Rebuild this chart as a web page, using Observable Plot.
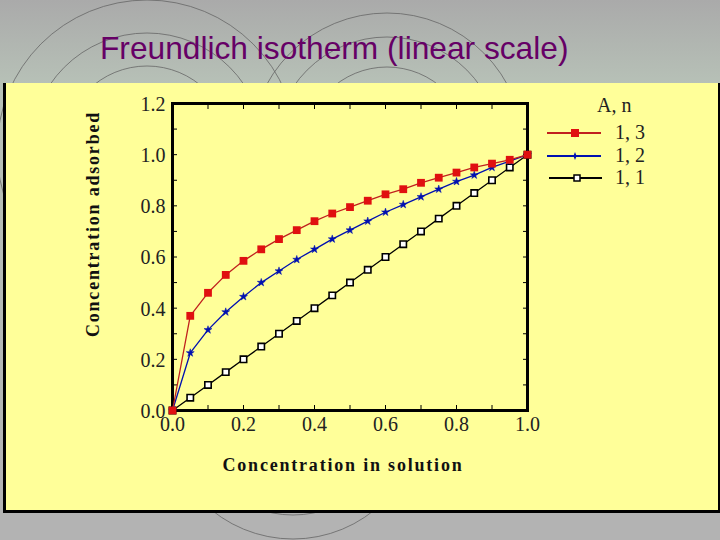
<!DOCTYPE html>
<html>
<head>
<meta charset="utf-8">
<script src="https://cdn.jsdelivr.net/npm/d3@7"></script>
<script src="https://cdn.jsdelivr.net/npm/@observablehq/plot@0.6"></script>
<style>
  html, body { margin: 0; padding: 0; }
  body { width: 720px; height: 540px; position: relative; overflow: hidden;
         background: linear-gradient(to bottom, #aaaaaa 0px, #b7c1b7 85px, #b3b3b3 520px); }
  #deco { position: absolute; left: 0; top: 0; }
  #title { position: absolute; left: 100px; top: 30px; font-family: "Liberation Sans", Arial, sans-serif;
           font-size: 31.7px; color: #660066; white-space: nowrap; }
  #panel { position: absolute; left: 3px; top: 83px; width: 712px; height: 427px; background: #ffff99;
           border-left: 3px solid #000; border-right: 3px solid #000; border-bottom: 3px solid #000; }
  #chart { position: absolute; left: 0; top: 83px; }
  #legend { position: absolute; left: 545px; top: 94px; font-family: "Liberation Serif", serif; font-size: 20px; color: #222; white-space: nowrap; }
  .lrow { position: absolute; left: 0; width: 110px; height: 22px; }
  .lrow svg { position: absolute; left: 0; top: 0; }
  .lrow span { position: absolute; left: 70px; top: -1px; }
</style>
</head>
<body>
<svg id="deco" width="720" height="540">
  <g fill="none" stroke="#666" stroke-width="0.8">
    <circle cx="147" cy="150" r="150"/>
    <circle cx="147" cy="150" r="117"/>
    <circle cx="147" cy="150" r="84"/>
    <circle cx="387" cy="150" r="137"/>
    <circle cx="387" cy="150" r="113"/>
    <circle cx="387" cy="150" r="83"/>
    <circle cx="293" cy="410" r="129"/>
    <circle cx="293" cy="410" r="105"/>
  </g>
</svg>
<div id="title">Freundlich isotherm (linear scale)</div>
<div id="panel"></div>
<div id="chart"></div>
<div id="legend">
  <div style="position:absolute;left:52px;top:0px;">A, n</div>
  <div class="lrow" style="top:28px;">
    <svg width="60" height="22"><line x1="2" y1="11" x2="56" y2="11" stroke="#c0201e" stroke-width="2"/><rect x="26" y="7" width="8" height="8" fill="#e01010"/></svg>
    <span>1, 3</span>
  </div>
  <div class="lrow" style="top:51px;">
    <svg width="60" height="22"><line x1="2" y1="11" x2="56" y2="11" stroke="#0010b0" stroke-width="2"/><path d="M30,7 L31.2,10 L34,11 L31.2,12 L30,15 L28.8,12 L26,11 L28.8,10 Z" fill="#0010b0"/></svg>
    <span>1, 2</span>
  </div>
  <div class="lrow" style="top:73px;">
    <svg width="60" height="22"><line x1="4" y1="11" x2="57" y2="11" stroke="#000" stroke-width="2"/><rect x="29" y="8" width="6" height="6" fill="#fff" stroke="#000" stroke-width="1.5"/></svg>
    <span>1, 1</span>
  </div>
</div>
<script>
// Concentration in solution (x)
const conc = [0, 0.05, 0.1, 0.15, 0.2, 0.25, 0.3, 0.35, 0.4, 0.45, 0.5, 0.55, 0.6, 0.65, 0.7, 0.75, 0.8, 0.85, 0.9, 0.95, 1.0];
// Concentration adsorbed for A=1, n=3
const adsN3 = [0, 0.37, 0.46, 0.53, 0.585, 0.63, 0.67, 0.705, 0.74, 0.77, 0.795, 0.82, 0.845, 0.865, 0.89, 0.91, 0.93, 0.95, 0.965, 0.98, 1.0];
// A=1, n=2
const adsN2 = [0, 0.225, 0.315, 0.385, 0.445, 0.5, 0.545, 0.59, 0.63, 0.67, 0.705, 0.74, 0.775, 0.805, 0.835, 0.865, 0.895, 0.92, 0.95, 0.975, 1.0];
// A=1, n=1
const adsN1 = [0, 0.05, 0.1, 0.15, 0.2, 0.25, 0.3, 0.35, 0.4, 0.45, 0.5, 0.55, 0.6, 0.65, 0.7, 0.75, 0.8, 0.85, 0.9, 0.95, 1.0];

const xTickLabels = [0, 0.2, 0.4, 0.6, 0.8, 1.0];
const yTickLabels = [0, 0.2, 0.4, 0.6, 0.8, 1.0, 1.2];
const minorTicksX = [0.1, 0.2, 0.3, 0.4, 0.5, 0.6, 0.7, 0.8, 0.9];
const minorTicksY = [0.1, 0.2, 0.3, 0.4, 0.5, 0.6, 0.7, 0.8, 0.9, 1.0, 1.1];

const d3s = conc.map((x, i) => ({x, y: adsN3[i]}));
const d2s = conc.map((x, i) => ({x, y: adsN2[i]}));
const d1s = conc.map((x, i) => ({x, y: adsN1[i]}));

const serif = '"Liberation Serif", "Times New Roman", serif';

const plot = Plot.plot({
  width: 720,
  height: 427,
  marginLeft: 172,
  marginRight: 193,
  marginTop: 20,
  marginBottom: 100,
  style: { background: "transparent", fontFamily: serif, overflow: "visible" },
  x: { type: "linear", domain: [0, 1], label: null, axis: null },
  y: { type: "linear", domain: [0, 1.2], label: null, axis: null },
  marks: [
    Plot.axisX(xTickLabels, { anchor: "bottom", tickSize: 0, tickPadding: 6, fontSize: 20, fill: "#222",
      tickFormat: d3.format(".1f"), label: null }),
    Plot.axisY(yTickLabels, { anchor: "left", tickSize: 0, tickPadding: 7, fontSize: 20, fill: "#222",
      tickFormat: d3.format(".1f"), label: null, dy: 1 }),
    Plot.axisX(minorTicksX, { anchor: "bottom", tickSize: -5, tickFormat: () => "", label: null, stroke: "#000" }),
    Plot.axisX(minorTicksX, { anchor: "top", tickSize: -5, tickFormat: () => "", label: null, stroke: "#000" }),
    Plot.axisY(minorTicksY, { anchor: "left", tickSize: -5, tickFormat: () => "", label: null, stroke: "#000" }),
    Plot.axisY(minorTicksY, { anchor: "right", tickSize: -5, tickFormat: () => "", label: null, stroke: "#000" }),
    Plot.frame({ stroke: "#000", strokeWidth: 3 }),
    // series
    Plot.line(d1s, { x: "x", y: "y", stroke: "#000", strokeWidth: 1.3 }),
    Plot.dot(d1s, { x: "x", y: "y", symbol: "square", r: 3.6, fill: "#fff", stroke: "#000", strokeWidth: 1.6 }),
    Plot.line(d2s, { x: "x", y: "y", stroke: "#0010b0", strokeWidth: 1.3 }),
    Plot.dot(d2s, { x: "x", y: "y", symbol: "star", r: 2.5, fill: "#0010b0", stroke: "#0010b0", strokeWidth: 0.5 }),
    Plot.line(d3s, { x: "x", y: "y", stroke: "#c0201e", strokeWidth: 1.3 }),
    Plot.dot(d3s, { x: "x", y: "y", symbol: "square", r: 4.4, fill: "#e01010" })
  ]
});
document.getElementById("chart").appendChild(plot);

// axis titles as real text inside the SVG
const svg = d3.select(plot);
svg.append("text")
  .attr("x", 343).attr("y", 388)
  .attr("text-anchor", "middle")
  .attr("font-family", serif).attr("font-weight", "bold").attr("font-size", 18)
  .attr("letter-spacing", 1.8).attr("fill", "#111")
  .text("Concentration in solution");
svg.append("text")
  .attr("transform", "translate(99,141) rotate(-90)")
  .attr("text-anchor", "middle")
  .attr("font-family", serif).attr("font-weight", "bold").attr("font-size", 18)
  .attr("letter-spacing", 1.8).attr("fill", "#111")
  .text("Concentration adsorbed");
</script>
</body>
</html>
